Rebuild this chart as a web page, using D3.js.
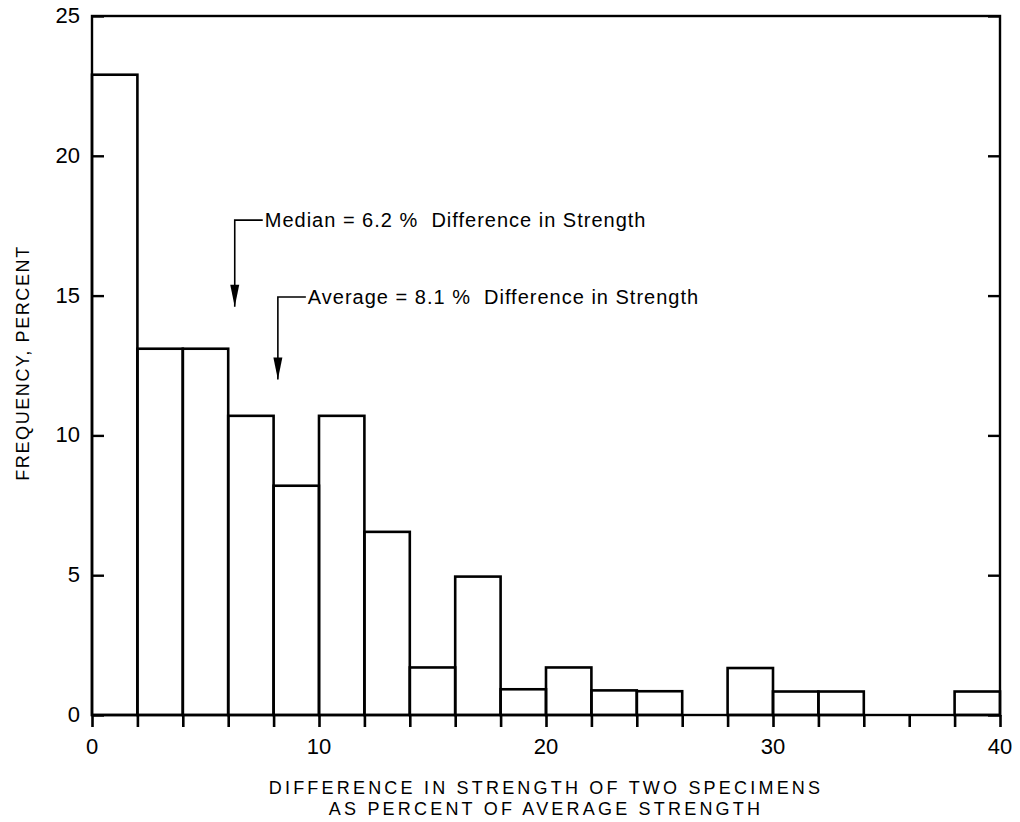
<!DOCTYPE html>
<html>
<head>
<meta charset="utf-8">
<script src="https://cdn.jsdelivr.net/npm/d3@7"></script>
<style>
  body { margin: 0; background: #fff; }
  text { font-family: "Liberation Sans", "DejaVu Sans", sans-serif; fill: #000; }
</style>
</head>
<body>
<svg id="chart" width="1020" height="822"></svg>
<script>
// bin start (percent difference), bin width 2
var binStarts = [0, 2, 4, 6, 8, 10, 12, 14, 16, 18, 20, 22, 24, 26, 28, 30, 32, 34, 36, 38];
var frequency = [22.9, 13.1, 13.1, 10.7, 8.2, 10.7, 6.55, 1.7, 4.95, 0.92, 1.7, 0.88, 0.85, 0, 1.68, 0.84, 0.84, 0, 0, 0.84];
var xTicks = [0, 10, 20, 30, 40];
var yTicks = [0, 5, 10, 15, 20, 25];
var notes = [
  { label: "Median = 6.2 %  Difference in Strength", value: 6.2, top: 17.7, tip: 14.6 },
  { label: "Average = 8.1 %  Difference in Strength", value: 8.1, top: 14.95, tip: 12.0 }
];

var binWidth = 2;
var svg = d3.select("#chart");
var pLeft = 92, pRight = 1000, pTop = 16, pBottom = 715;

var x = d3.scaleLinear().domain([0, 40]).range([pLeft, pRight]);
var y = d3.scaleLinear().domain([0, 25]).range([pBottom, pTop]);

var g = svg.append("g");

// bars
g.selectAll("rect.bar")
  .data(binStarts)
  .enter().append("rect")
  .attr("class", "bar")
  .attr("x", function(d) { return x(d); })
  .attr("y", function(d, i) { return y(frequency[i]); })
  .attr("width", function(d) { return x(d + binWidth) - x(d); })
  .attr("height", function(d, i) { return pBottom - y(frequency[i]); })
  .style("fill", "none")
  .style("stroke", "#000")
  .style("stroke-width", 2.6);

// frame
g.append("rect")
  .attr("x", pLeft).attr("y", pTop)
  .attr("width", pRight - pLeft).attr("height", pBottom - pTop)
  .style("fill", "none").style("stroke", "#000").style("stroke-width", 2.4);

// x axis ticks every 2 (below axis)
var xAxis = d3.axisBottom(x)
  .tickValues(d3.range(0, 41, 2))
  .tickSize(12)
  .tickFormat("");
var xa = g.append("g").attr("transform", "translate(0," + pBottom + ")").call(xAxis);
xa.select(".domain").remove();
xa.selectAll("line").style("stroke-width", 2.6);

g.selectAll("text.xlab")
  .data(xTicks)
  .enter().append("text")
  .attr("class", "xlab")
  .attr("x", function(d) { return x(d); })
  .attr("y", 754)
  .attr("text-anchor", "middle")
  .style("font-size", "22px")
  .text(function(d) { return d; });

// y axis: inward ticks left and right
var yl = g.append("g").attr("transform", "translate(" + pLeft + ",0)")
  .call(d3.axisRight(y).tickValues(yTicks).tickSize(12).tickFormat(""));
yl.select(".domain").remove();
yl.selectAll("line").style("stroke-width", 2.4);
var yr = g.append("g").attr("transform", "translate(" + pRight + ",0)")
  .call(d3.axisLeft(y).tickValues(yTicks).tickSize(12).tickFormat(""));
yr.select(".domain").remove();
yr.selectAll("line").style("stroke-width", 2.4);

g.selectAll("text.ylab")
  .data(yTicks)
  .enter().append("text")
  .attr("class", "ylab")
  .attr("x", 80)
  .attr("y", function(d) { return y(d) + 7; })
  .attr("text-anchor", "end")
  .style("font-size", "22px")
  .text(function(d) { return d; });

// axis titles
svg.append("text")
  .attr("x", 546).attr("y", 794)
  .attr("text-anchor", "middle")
  .style("font-size", "18px").style("letter-spacing", "3.2px")
  .text("DIFFERENCE IN STRENGTH OF TWO SPECIMENS");
svg.append("text")
  .attr("x", 546).attr("y", 815)
  .attr("text-anchor", "middle")
  .style("font-size", "18px").style("letter-spacing", "3.2px")
  .text("AS PERCENT OF AVERAGE STRENGTH");
svg.append("text")
  .attr("transform", "translate(29,363) rotate(-90)")
  .attr("text-anchor", "middle")
  .style("font-size", "18px").style("letter-spacing", "1.6px")
  .text("FREQUENCY,  PERCENT");

// annotations with arrows
var note = g.selectAll("g.note").data(notes).enter().append("g").attr("class", "note");
note.append("path")
  .attr("d", function(d) {
    var xs = x(d.value) + 2;
    return "M" + (xs + 28) + "," + y(d.top) + " H" + xs + " V" + y(d.tip);
  })
  .style("fill", "none").style("stroke", "#000").style("stroke-width", 1.6);
note.append("path")
  .attr("d", function(d) {
    var xs = x(d.value) + 2, yt = y(d.tip);
    return "M" + (xs - 4.5) + "," + (yt - 22) + " L" + xs + "," + yt + " L" + (xs + 4.5) + "," + (yt - 22) + " Z";
  })
  .style("fill", "#000");
note.append("text")
  .attr("x", function(d) { return x(d.value) + 32; })
  .attr("y", function(d) { return y(d.top) + 7; })
  .style("font-size", "20px")
  .style("letter-spacing", "1px")
  .style("white-space", "pre")
  .text(function(d) { return d.label; });
</script>
</body>
</html>
